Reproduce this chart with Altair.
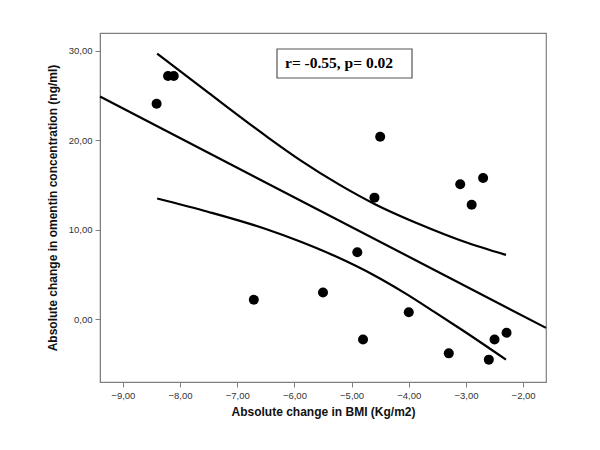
import altair as alt
import pandas as pd

# scatter data
bmi_change = [-8.41, -8.21, -8.11, -6.71, -4.50, -4.60, -4.90, -5.50, -4.80, -4.00,
              -3.30, -3.10, -2.90, -2.70, -2.60, -2.50, -2.29]
omentin_change = [24.1, 27.2, 27.2, 2.2, 20.4, 13.6, 7.5, 3.0, -2.25, 0.8,
                  -3.8, 15.1, 12.8, 15.8, -4.5, -2.25, -1.5]

# fit line
fit_x = [-9.4, -1.6]
fit_y = [24.9, -0.95]

# confidence band curves
upper_x = [-8.4, -7.5, -6.5, -5.9, -5.2, -4.6, -3.8, -3.04, -2.3]
upper_y = [29.7, 25.3, 20.5, 17.8, 15.0, 12.9, 10.6, 8.7, 7.2]
lower_x = [-8.4, -7.5, -6.5, -5.9, -5.3, -4.6, -4.06, -3.57, -3.04, -2.3]
lower_y = [13.5, 12.0, 10.1, 8.7, 7.1, 4.9, 2.9, 0.9, -1.3, -4.5]

x_ticks = [-9, -8, -7, -6, -5, -4, -3, -2]
y_ticks = [0, 10, 20, 30]
annotation = "r= -0.55, p= 0.02"

pts = pd.DataFrame({"x": bmi_change, "y": omentin_change})
lines = pd.DataFrame(
    {"x": fit_x + upper_x + lower_x,
     "y": fit_y + upper_y + lower_y,
     "series": ["fit"] * len(fit_x) + ["upper"] * len(upper_x) + ["lower"] * len(lower_x),
     "order": list(range(len(fit_x))) + list(range(len(upper_x))) + list(range(len(lower_x)))}
)

lab_expr = "replace(format(datum.value, '.2f'), '.', ',')"
xscale = alt.Scale(domain=[-9.4, -1.6], nice=False, zero=False)
yscale = alt.Scale(domain=[-7, 32], nice=False, zero=False)

xaxis = alt.Axis(values=x_ticks, labelExpr=lab_expr, title="Absolute change in BMI (Kg/m2)",
                 grid=False, tickSize=5, labelPadding=3, titlePadding=7)
yaxis = alt.Axis(values=y_ticks, labelExpr=lab_expr,
                 title="Absolute change in omentin concentration (ng/ml)",
                 grid=False, tickSize=5, labelPadding=3, titlePadding=9)

line_layer = alt.Chart(lines).mark_line(color="black", strokeWidth=2.2, interpolate="monotone").encode(
    x=alt.X("x:Q", scale=xscale, axis=xaxis),
    y=alt.Y("y:Q", scale=yscale, axis=yaxis),
    detail="series:N",
    order="order:Q",
)

point_layer = alt.Chart(pts).mark_circle(color="black", opacity=1, size=100).encode(
    x=alt.X("x:Q", scale=xscale),
    y=alt.Y("y:Q", scale=yscale),
)

box = alt.Chart(pd.DataFrame({"t": [annotation]})).mark_rect(
    fill="white", stroke="#555555", strokeWidth=1.2
).encode(x=alt.value(177), x2=alt.value(312), y=alt.value(16), y2=alt.value(45))

label = alt.Chart(pd.DataFrame({"t": [annotation]})).mark_text(
    font="Liberation Serif", fontWeight="bold", fontSize=15.5, align="left",
    baseline="alphabetic", color="black"
).encode(x=alt.value(185), y=alt.value(35), text="t:N")

chart = alt.layer(line_layer, point_layer, box, label).properties(
    width=446, height=349,
    autosize=alt.AutoSizeParams(type="none"),
    padding={"left": 92, "top": 25, "right": 10, "bottom": 60},
).configure_view(stroke="#808080", strokeWidth=1.2).configure_axis(
    domainColor="#808080", tickColor="#808080", labelColor="#333333",
    labelFont="Liberation Sans", labelFontSize=9.5,
    titleFont="Liberation Sans", titleFontSize=12, titleFontWeight="bold", titleColor="#111111",
)

chart.save("out.html", embed_options={"renderer": "svg", "actions": False})
